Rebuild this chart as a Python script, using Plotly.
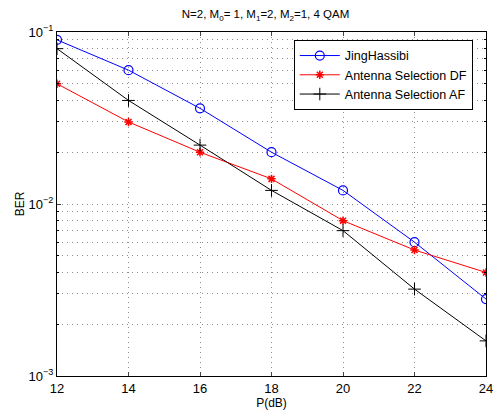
import plotly.graph_objects as go

# SNR points (dB)
p_db = [12, 14, 16, 18, 20, 22, 24]

# BER values for each scheme
ber_jing = [0.09, 0.060, 0.036, 0.020, 0.012, 0.0060, 0.0028]
ber_df = [0.050, 0.030, 0.020, 0.014, 0.008, 0.0054, 0.0040]
ber_af = [0.080, 0.040, 0.022, 0.012, 0.007, 0.0032, 0.0016]

y_major = [1e-3, 1e-2, 1e-1]
y_major_text = ['10<sup>−3</sup>', '10<sup>−2</sup>', '10<sup>−1</sup>']
y_minor = [m * 10.0 ** e for e in (-3, -2) for m in range(2, 10)]

fig = go.Figure()
fig.add_trace(go.Scatter(x=p_db, y=ber_jing, name='JingHassibi', mode='lines+markers',
                         line=dict(color='#0000ff', width=1),
                         marker=dict(symbol='circle-open', size=9, color='#0000ff',
                                     line=dict(width=1.2, color='#0000ff'))))
fig.add_trace(go.Scatter(x=p_db, y=ber_df, name='Antenna Selection DF', mode='lines+markers',
                         line=dict(color='#ff0000', width=1),
                         marker=dict(symbol='asterisk-open', size=7, color='#ff0000',
                                     line=dict(width=1.5, color='#ff0000'))))
fig.add_trace(go.Scatter(x=p_db, y=ber_af, name='Antenna Selection AF', mode='lines+markers',
                         line=dict(color='#000000', width=1),
                         marker=dict(symbol='cross-thin-open', size=9, color='#000000',
                                     line=dict(width=1, color='#000000'))))

fig.update_layout(
    width=501, height=417,
    paper_bgcolor='white', plot_bgcolor='white',
    margin=dict(l=57, r=8, t=32, b=41),
    font=dict(family='Liberation Sans, Arial', size=12, color='black'),
    title=dict(text='N=2, M<sub>0</sub>= 1, M<sub>1</sub>=2, M<sub>2</sub>=1, 4 QAM',
               x=0.53, xanchor='center', y=0.975, yanchor='top',
               font=dict(size=11.5)),
    showlegend=True,
    legend=dict(x=0.552, y=0.977, xanchor='left', yanchor='top',
                bgcolor='white', bordercolor='black', borderwidth=1,
                font=dict(size=12.5), tracegroupgap=0, itemwidth=40),
)

grid = dict(showgrid=True, gridcolor='#8c8c8c', griddash='1px,4px', gridwidth=1)

fig.update_xaxes(
    range=[12, 24], tickvals=p_db, ticks='inside', ticklen=4,
    showline=True, linecolor='black', linewidth=1, mirror='ticks',
    zeroline=False,
    title=dict(text='P(dB)', standoff=0, font=dict(size=12)),
    tickfont=dict(size=13), **grid,
)
fig.update_yaxes(
    type='log', range=[-3, -1],
    tickvals=y_major, ticktext=y_major_text, ticks='inside', ticklen=4,
    showline=True, linecolor='black', linewidth=1, mirror='ticks',
    minor=dict(tickvals=y_minor, ticks='inside', ticklen=2, tickcolor='black', **grid),
    title=dict(text='BER', standoff=1, font=dict(size=12)),
    tickfont=dict(size=13), **grid,
)

# drop the default 8px page margin so the figure sits at the window corner
fig.write_html('out.html', config={'displayModeBar': False},
               post_script="document.body.style.margin='0';")
